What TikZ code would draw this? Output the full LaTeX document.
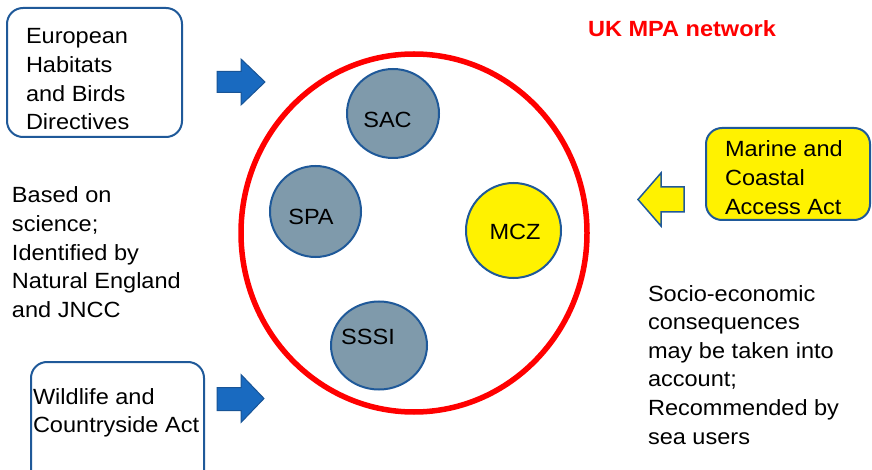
\documentclass[tikz,border=0pt]{standalone}
\usepackage{fontspec}
\setmainfont{Liberation Sans}[FakeStretch=1.07]
\usetikzlibrary{shapes.geometric}
\definecolor{edgeblue}{RGB}{31,89,153}
\definecolor{slate}{RGB}{127,154,171}
\definecolor{arrowblue}{RGB}{25,106,192}
\definecolor{arrowedge}{RGB}{24,84,150}
\definecolor{mpared}{RGB}{255,0,0}
\newcommand\mlines[1]{\vtop{\baselineskip=28.6pt\lineskiplimit=-50pt\lineskip=0pt #1}}
\begin{document}
\begin{tikzpicture}[x=1pt,y=-1pt,
  every node/.style={inner sep=0pt, outer sep=0pt},
  txt/.style={anchor=base west, font=\fontsize{22}{28.6}\selectfont},
  lawbox/.style={rectangle, draw=edgeblue, line width=2pt, rounded corners=16pt},
  site/.style={ellipse, draw=edgeblue, line width=2pt, fill=slate},
  sitelbl/.style={font=\fontsize{22}{28.6}\selectfont},
  bluearrow/.style={fill=arrowblue, draw=arrowedge, line width=1pt, line join=miter},
  yellowarrow/.style={fill=yellow, draw=edgeblue, line width=1.5pt, line join=miter},
  ]
\useasboundingbox (0,0) rectangle (872,470);
\clip (0,0) rectangle (872,470);

% network outline
\node[ellipse, draw=mpared, line width=5.5pt, minimum width=346pt, minimum height=358pt] (mpa) at (414,233) {};
\node[anchor=base west, font=\fontsize{22}{28.6}\selectfont\bfseries, text=mpared] (title) at (588,37) {UK MPA network};

% sites
\node[site, minimum width=92pt, minimum height=89pt] (sac) at (393,113.5) {};
\node[sitelbl] (sact) at (387.5,119.5) {SAC};
\node[site, minimum width=91pt, minimum height=91pt] (spa) at (315.5,211.5) {};
\node[sitelbl] (spat) at (311,217) {SPA};
\node[site, fill=yellow, minimum width=95pt, minimum height=95pt] (mcz) at (513.5,230.5) {};
\node[sitelbl] (mczt) at (515,232) {MCZ};
\node[site, minimum width=96pt, minimum height=88pt] (sssi) at (379,345.5) {};
\node[sitelbl] (sssit) at (368,337) {SSSI};

% legislation boxes
\node[lawbox, minimum width=175pt, minimum height=129pt] (eu) at (94.5,72.5) {};
\node[txt] (eut) at (26,44) {\mlines{\hbox{European}\hbox{Habitats}\hbox{and Birds}\hbox{Directives}}};
\node[lawbox, fill=yellow, minimum width=164pt, minimum height=92pt] (mca) at (788,174) {};
\node[txt] (mcat) at (725,157) {\mlines{\hbox{Marine and}\hbox{Coastal}\hbox{Access Act}}};
\node[lawbox, minimum width=173pt, minimum height=140pt] (wca) at (117.5,432) {};
\node[txt] (wcat) at (33,404) {\mlines{\hbox{Wildlife and}\hbox{Countryside Act}}};

% free texts
\node[txt] (sci) at (12,203) {\mlines{\hbox{Based on}\hbox{science;}\hbox{Identified by}\hbox{Natural England}\hbox{and JNCC}}};
\node[txt] (soc) at (648,301) {\mlines{\hbox{Socio-economic}\hbox{consequences}\hbox{may be taken into}\hbox{account;}\hbox{Recommended by}\hbox{sea users}}};

% block arrows
\draw[bluearrow] (217,71.5) -- (241,71.5) -- (241,59) -- (265,82) -- (241,105) -- (241,92.5) -- (217,92.5) -- cycle;
\draw[bluearrow] (217,387.5) -- (241,387.5) -- (241,374.5) -- (264,398.5) -- (241,422.5) -- (241,410.5) -- (217,410.5) -- cycle;
\draw[yellowarrow] (684,187) -- (661,187) -- (661,173) -- (638,199.5) -- (661,226) -- (661,212) -- (684,212) -- cycle;
\end{tikzpicture}
\end{document}
